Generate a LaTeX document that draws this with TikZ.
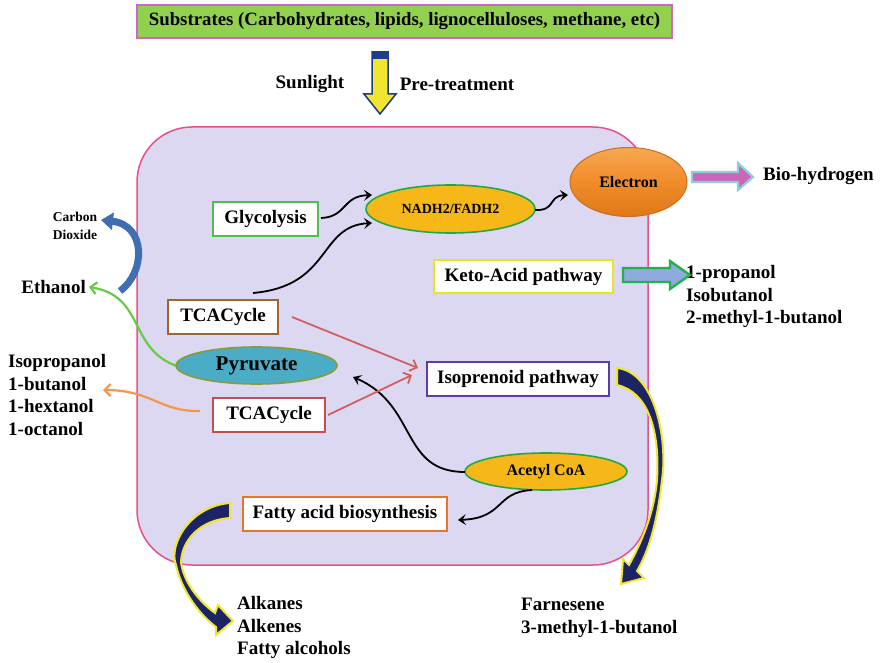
\documentclass[tikz,border=0pt]{standalone}
\usepackage{fontspec}
\setmainfont{Liberation Serif}
\usetikzlibrary{arrows.meta,shapes.geometric}
\definecolor{subgreen}{HTML}{92D050}
\definecolor{submag}{HTML}{CC66CC}
\definecolor{cellfill}{HTML}{DCD8F2}
\definecolor{cellpink}{HTML}{E8508A}
\definecolor{navy}{HTML}{1F3C88}
\definecolor{darknavy}{HTML}{1C2466}
\definecolor{arryellow}{HTML}{F0E630}
\definecolor{glycgreen}{HTML}{4CC04C}
\definecolor{tcabrown}{HTML}{A0642C}
\definecolor{tcared}{HTML}{C0504D}
\definecolor{ketoyellow}{HTML}{E6E61E}
\definecolor{isopurple}{HTML}{5B3FA0}
\definecolor{fattyorange}{HTML}{E8742A}
\definecolor{ellyellow}{HTML}{F5B818}
\definecolor{ellgreen}{HTML}{22A84A}
\definecolor{elecorange}{HTML}{F08C2A}
\definecolor{eleclight}{HTML}{F7A850}
\definecolor{elecdark}{HTML}{E07818}
\definecolor{elecborder}{HTML}{C8701E}
\definecolor{pyrblue}{HTML}{4BACC6}
\definecolor{pyrborder}{HTML}{8A9A3A}
\definecolor{redarrow}{HTML}{D06060}
\definecolor{greenarrow}{HTML}{66CC44}
\definecolor{orangearrow}{HTML}{F79646}
\definecolor{co2blue}{HTML}{3F6FB0}
\definecolor{biomag}{HTML}{CC66BB}
\definecolor{biocyan}{HTML}{8CCFD8}
\definecolor{ketofill}{HTML}{8FAADC}
\definecolor{ketogreen}{HTML}{22B14C}
\tikzset{
  boxnode/.style={draw, fill=white, line width=2pt, inner sep=0pt, font=\bfseries\fontsize{19}{21}\selectfont},
  ellnode/.style={ellipse, draw, line width=1.6pt, inner sep=0pt},
  lbl/.style={font=\bfseries\fontsize{19}{22.7}\selectfont, inner sep=0pt, align=left},
  blackarr/.style={line width=1.8pt, -{Stealth[length=8pt,width=11pt,inset=3.5pt]}},
  thinarr/.style={line width=1.8pt, -{Straight Barb[length=6pt,width=12pt]}},
}
\begin{document}
\begin{tikzpicture}[x=1pt,y=-1pt]
\useasboundingbox (0,0) rectangle (881,663);
% substrates
\node[draw=submag, fill=subgreen, line width=2pt, minimum width=535pt, minimum height=33pt, inner sep=0pt, font=\bfseries\fontsize{18.8}{20}\selectfont] (sub) at (404.5,21.5) {Substrates (Carbohydrates, lipids, lignocelluloses, methane, etc)};
% down arrow
\draw[navy, line width=1.5pt, fill=arryellow] (372,52) -- (388,52) -- (388,94) -- (396,94) -- (380,114) -- (364,94) -- (372,94) -- cycle;
\fill[navy] (372,51) rectangle (388,59);
\node[lbl] (sun) at (310,84) {Sunlight};
\node[lbl] (pre) at (457,84) {Pre-treatment};
% cell
\draw[cellpink, line width=1.5pt, fill=cellfill, rounded corners=55pt] (137,127) rectangle (648,565);
% nodes
\node[boxnode, draw=glycgreen, minimum width=105pt, minimum height=34pt] (glyc) at (265.5,219) {Glycolysis};
\node[ellnode, draw=ellgreen, fill=ellyellow, minimum width=169pt, minimum height=48pt, font=\bfseries\fontsize{14}{16}\selectfont] (nadh) at (450.5,209) {NADH2/FADH2};
\node[ellnode, draw=elecborder, top color=eleclight, bottom color=elecdark, middle color=elecorange, minimum width=117pt, minimum height=69pt, line width=1pt, font=\bfseries\fontsize{16}{18}\selectfont] (elec) at (628.5,182) {Electron};
\node[boxnode, draw=ketoyellow, minimum width=179pt, minimum height=33pt] (keto) at (523.5,276.5) {Keto-Acid pathway};
\node[boxnode, draw=tcabrown, minimum width=110pt, minimum height=34pt] (tca1) at (223,317) {TCACycle};
\node[ellnode, draw=pyrborder, fill=pyrblue, minimum width=161pt, minimum height=37pt, font=\bfseries\fontsize{21}{23}\selectfont] (pyr) at (256.5,365.5) {Pyruvate};
\node[boxnode, draw=tcared, minimum width=112pt, minimum height=34pt] (tca2) at (269,415) {TCACycle};
\node[boxnode, draw=isopurple, minimum width=182pt, minimum height=34pt] (iso) at (518,378.5) {Isoprenoid pathway};
\node[ellnode, draw=ellgreen, fill=ellyellow, minimum width=162pt, minimum height=37pt, font=\bfseries\fontsize{16}{18}\selectfont] (acetyl) at (546,471.5) {Acetyl CoA};
\node[boxnode, draw=fattyorange, minimum width=204pt, minimum height=34pt] (fatty) at (345,514) {Fatty acid biosynthesis};
% outside labels
\node[lbl, anchor=west] (bioh) at (763,176) {Bio-hydrogen};
\node[lbl, anchor=north west] (alco) at (686,265) {1-propanol\\Isobutanol\\2-methyl-1-butanol};
\node[lbl, anchor=east] (eth) at (86,287) {Ethanol};
\node[font=\bfseries\fontsize{13.5}{17.5}\selectfont, align=center, inner sep=0pt] (co2) at (75,226) {Carbon\\Dioxide};
\node[lbl, anchor=north west] (isop) at (8,354) {Isopropanol\\1-butanol\\1-hextanol\\1-octanol};
\node[lbl, anchor=north west] (alk) at (237,596) {Alkanes\\Alkenes\\Fatty alcohols};
\node[lbl, anchor=north west] (farn) at (521,598) {Farnesene\\3-methyl-1-butanol};
% coordinates
\coordinate (g1) at (321,218);
\coordinate (n1) at (372,195);
\coordinate (t1) at (253,293);
\coordinate (n2) at (372,223);
\coordinate (n3) at (535,210);
\coordinate (e1) at (568,195);
\coordinate (a1) at (465,472);
\coordinate (p1) at (353,377);
\coordinate (a2) at (532,490);
\coordinate (f1) at (458,520);
\coordinate (r1) at (292,317);
\coordinate (r2) at (418,368);
\coordinate (r3) at (328,415);
\coordinate (r4) at (412,375);
\coordinate (o1) at (200,411);
\coordinate (o2) at (103,390);
% black arrows
\draw[blackarr] (g1) .. controls (347,217) and (342,196) .. (n1);
\draw[blackarr] (t1) .. controls (332,286) and (318,226) .. (n2);
\draw[blackarr] (n3) .. controls (556,211) and (548,196) .. (e1);
\draw[blackarr] (a1) .. controls (400,472) and (418,405) .. (p1);
\draw[blackarr] (a2) .. controls (495,492) and (505,518) .. (f1);
% red arrows
\draw[redarrow, thinarr] (r1) -- (r2);
\draw[redarrow, thinarr] (r3) -- (r4);
% green to ethanol
\draw[greenarrow, thinarr, line width=2.2pt] (pyr.west) .. controls (128,347) and (145,296) .. ([xshift=3pt]eth.east);
% orange to isopropanol
\draw[orangearrow, thinarr, line width=2.2pt] (o1) .. controls (160,412) and (152,390) .. (o2);
% CO2 blue
\draw[co2blue, line width=7pt, -{Triangle[length=12pt,width=17pt]}] (120,291) .. controls (146,272) and (146,225) .. (101,220);
% bio-hydrogen arrow
\draw[biocyan, line width=2.2pt, fill=biomag] (692,172) -- (738,172) -- (738,163) -- (753,177) -- (738,190) -- (738,182) -- (692,182) -- cycle;
% keto arrow
\draw[ketogreen, line width=2.4pt, fill=ketofill] (623,268) -- (670,268) -- (670,261) -- (690,275) -- (670,289) -- (670,282) -- (623,282) -- cycle;
% isoprenoid crescent
\draw[arryellow, line width=2pt, fill=darknavy] (617,368) .. controls (655,372) and (668,440) .. (662,480) .. controls (657,525) and (648,552) .. (637,571) -- (644,578) -- (621,584) -- (623,559) -- (629,565) .. controls (640,545) and (654,515) .. (657,480) .. controls (660,430) and (648,392) .. (617,385) -- cycle;
% fatty crescent
\draw[arryellow, line width=2pt, fill=darknavy] (230,503) .. controls (190,506) and (168,545) .. (176,565) .. controls (182,592) and (200,615) .. (216,627) -- (216,635) -- (233,621) -- (218,605) -- (215,613) .. controls (197,600) and (183,580) .. (181,562) .. controls (182,540) and (200,520) .. (230,518) -- cycle;
\end{tikzpicture}
\end{document}
